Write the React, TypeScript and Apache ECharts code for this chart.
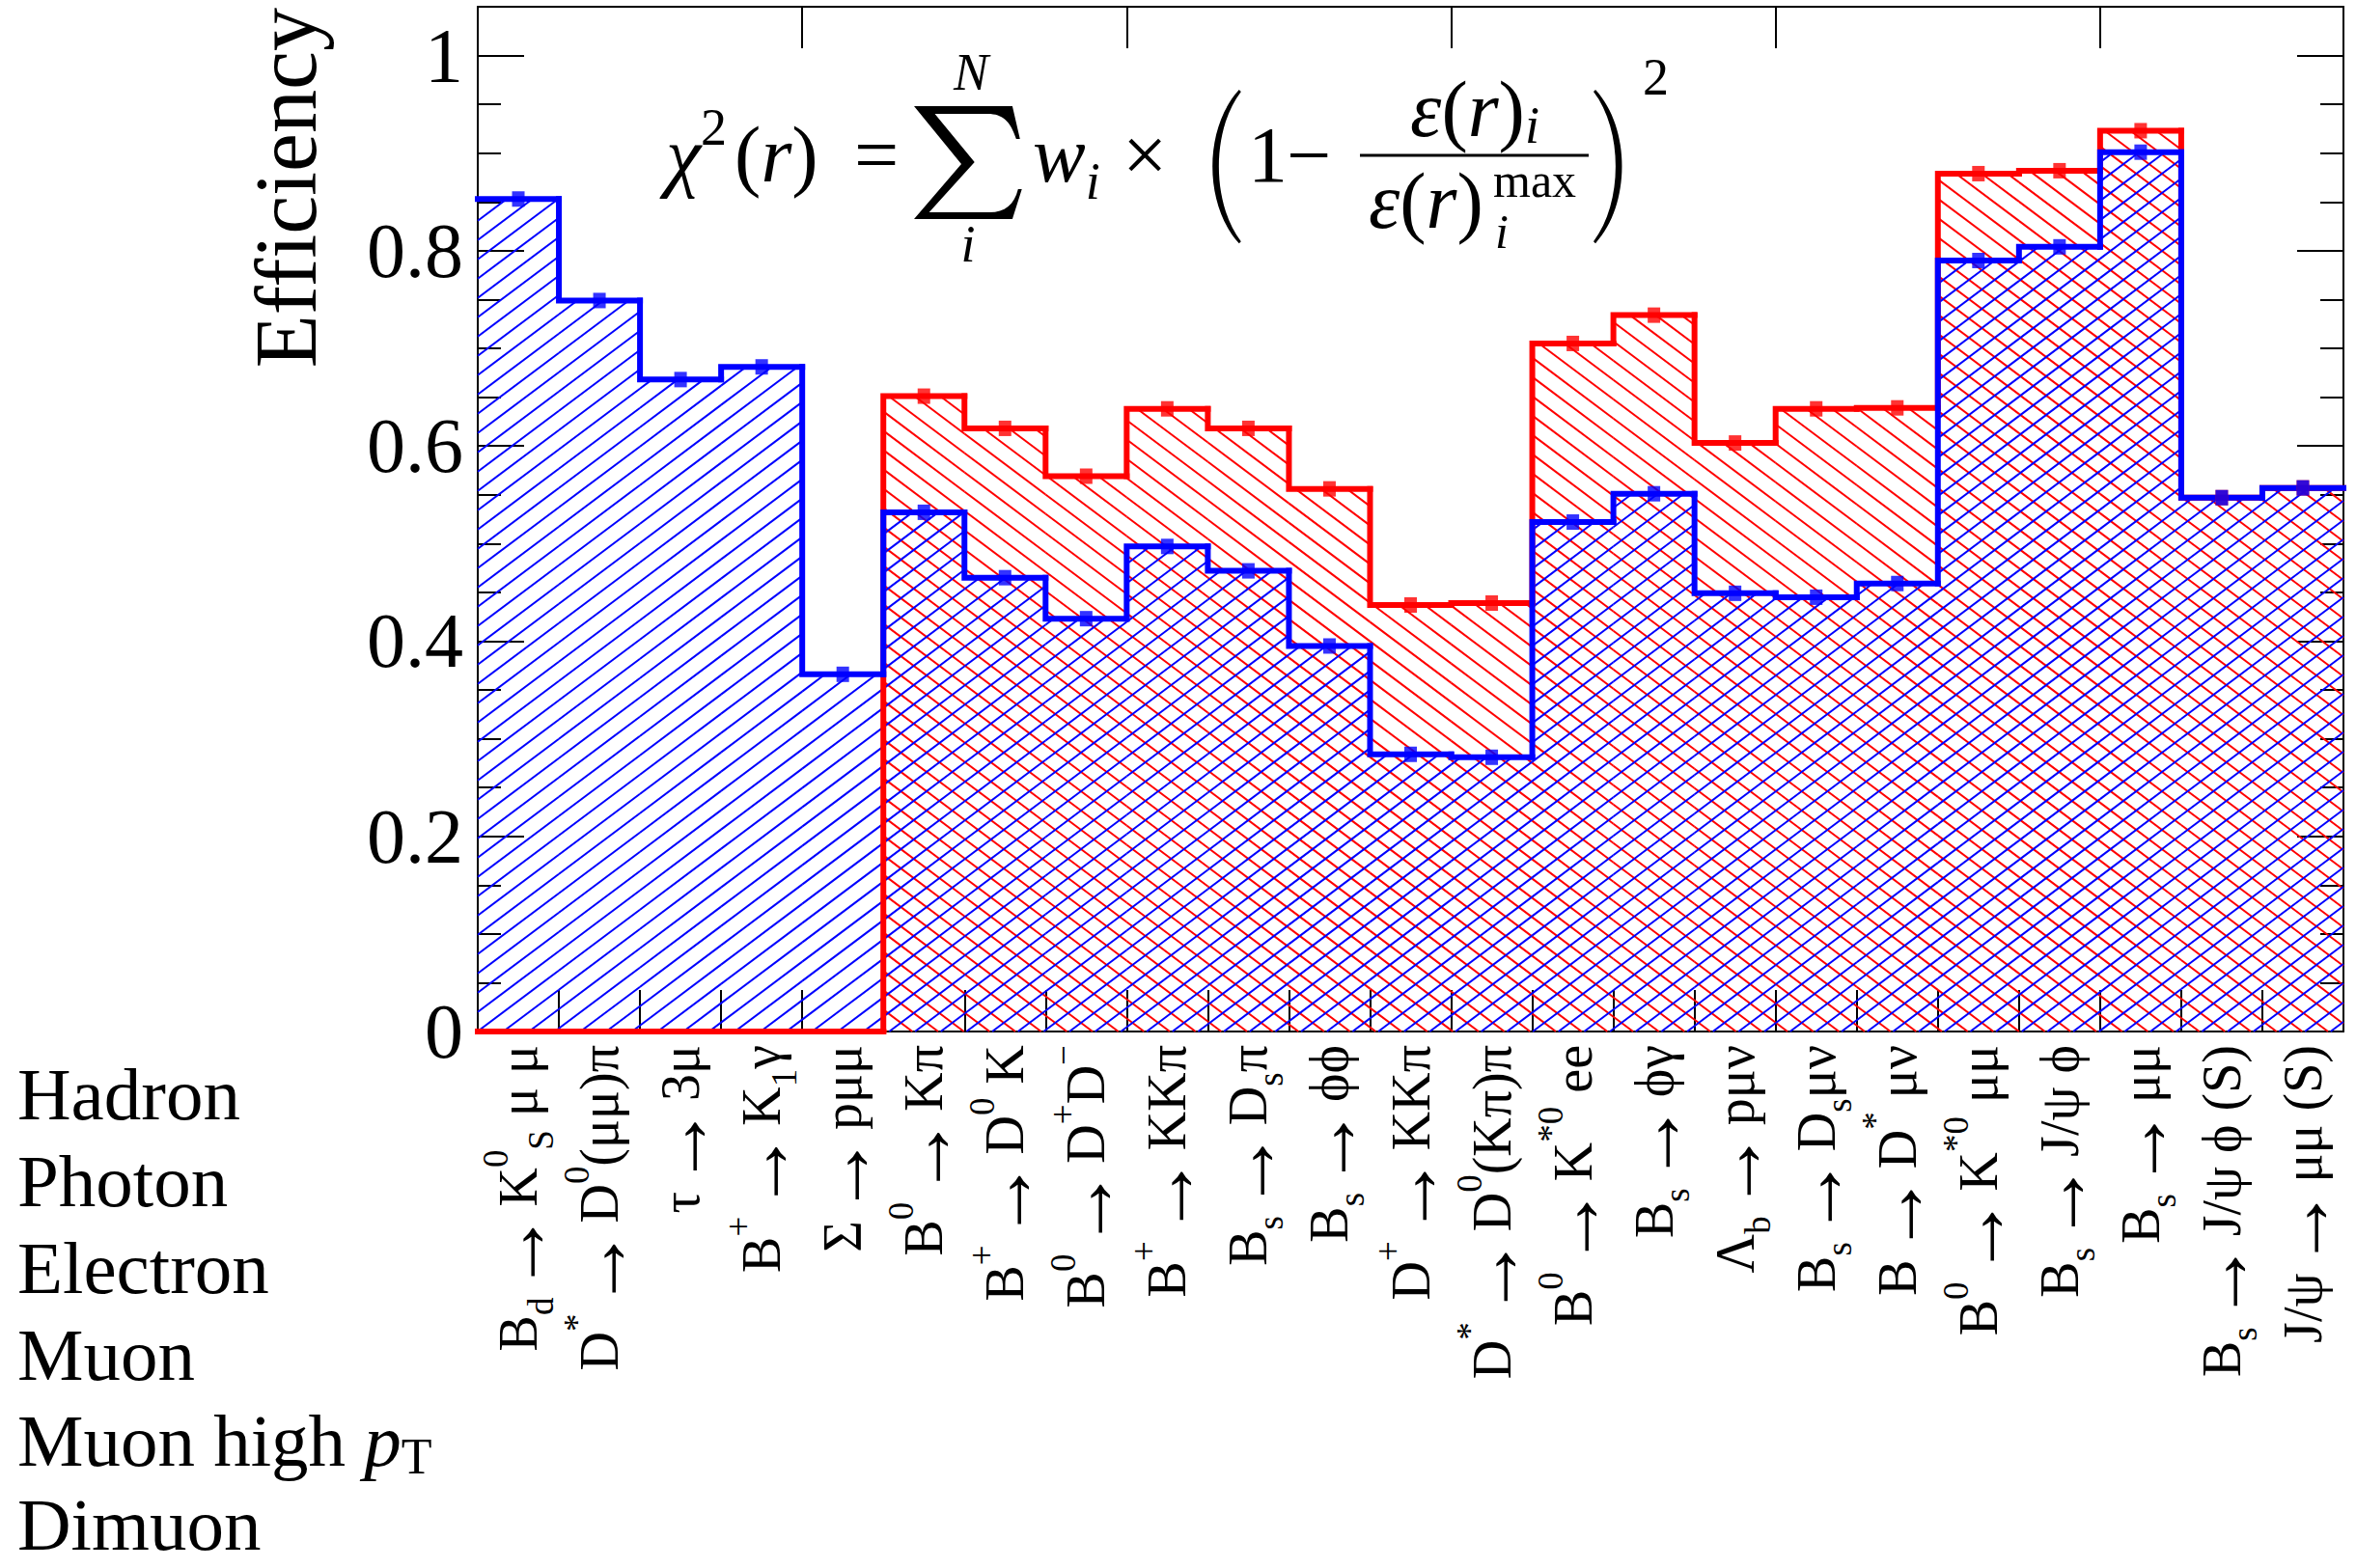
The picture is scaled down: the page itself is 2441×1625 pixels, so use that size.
import React, { useEffect, useRef } from 'react';
import * as echarts from 'echarts';

const SERIF = '"Liberation Serif", "Times New Roman", Times, serif';

// Display-style glyphs drawn as outlines: summation sign and tall parentheses
const SIGMA_PATH =
  'M0 0 L104 0 L112 34 L108 34 C102 16 94 8 78 8 L22 8 L64 58 L16 110 L80 110 C96 110 106 102 110 86 L114 86 L104 117 L0 117 L50 60 Z';
const LPAREN_PATH = 'M38 0 C2 40 2 120 38 160 L40 158 C10 118 10 42 40 2 Z';
const RPAREN_PATH = 'M2 0 C38 40 38 120 2 160 L0 158 C30 118 30 42 0 2 Z';
echarts.graphic.registerShape('sigmaGlyph', echarts.graphic.extendPath(SIGMA_PATH, {}));
echarts.graphic.registerShape('lparenGlyph', echarts.graphic.extendPath(LPAREN_PATH, {}));
echarts.graphic.registerShape('rparenGlyph', echarts.graphic.extendPath(RPAREN_PATH, {}));

// Decay channels, one per bin (rich-text markup for sub/superscripts)
const channels: string[] = [
  '{n|B}{sub|d}{ar|→}{n|K}{sup|0}{sub|S}{n| μ μ}',
  '{n|D}{sup|*}{ar|→}{n|D}{sup|0}{n|(μμ)π}',
  '{n|τ}{ar|→}{n|3μ}',
  '{n|B}{sup|+}{ar|→}{n|K}{sub|1}{n|γ}',
  '{n|Σ}{ar|→}{n|pμμ}',
  '{n|B}{sup|0}{ar|→}{n|Kπ}',
  '{n|B}{sup|+}{ar|→}{n|D}{sup|0}{n| K}',
  '{n|B}{sup|0}{ar|→}{n|D}{sup|+}{n|D}{sup|−}',
  '{n|B}{sup|+}{ar|→}{n|KKπ}',
  '{n|B}{sub|s}{ar|→}{n|D}{sub|s}{n|π}',
  '{n|B}{sub|s}{ar|→}{n|ϕϕ}',
  '{n|D}{sup|+}{ar|→}{n|KKπ}',
  '{n|D}{sup|*}{ar|→}{n|D}{sup|0}{n|(Kπ)π}',
  '{n|B}{sup|0}{ar|→}{n|K}{sup|*0}{n| ee}',
  '{n|B}{sub|s}{ar|→}{n|ϕγ}',
  '{n|Λ}{sub|b}{ar|→}{n|pμν}',
  '{n|B}{sub|s}{ar|→}{n|D}{sub|s}{n|μν}',
  '{n|B}{ar|→}{n|D}{sup|*}{n| μν}',
  '{n|B}{sup|0}{ar|→}{n|K}{sup|*0}{n| μμ}',
  '{n|B}{sub|s}{ar|→}{n|J/ψ ϕ}',
  '{n|B}{sub|s}{ar|→}{n|μμ}',
  '{n|B}{sub|s}{ar|→}{n|J/ψ ϕ (S)}',
  '{n|J/ψ}{ar|→}{n|μμ (S)}',
];

// Efficiency per channel, blue (single-trigger tuning) and red (combined)
const blueEff = [
  0.853, 0.749, 0.668, 0.681, 0.366, 0.532, 0.465, 0.423, 0.497, 0.472, 0.395, 0.284,
  0.281, 0.522, 0.551, 0.449, 0.445, 0.459, 0.79, 0.804, 0.901, 0.547, 0.557,
];
const redEff = [
  0, 0, 0, 0, 0, 0.651, 0.618, 0.569, 0.638, 0.618, 0.556, 0.437,
  0.439, 0.705, 0.734, 0.603, 0.638, 0.639, 0.879, 0.882, 0.923, 0.547, 0.557,
];

// Trigger lines listed under the y axis
const triggerRows: string[] = ['Hadron', 'Photon', 'Electron', 'Muon', 'Muon high', 'Dimuon'];

const yMajorTicks = [0, 0.2, 0.4, 0.6, 0.8, 1];
const Y_MAX = 1.05;

const BLUE = '#0000ff';
const RED = '#ff0000';

// Diagonal hatching of one bin: lines y = a*x + c in pixel space, clipped to the bar
function hatchRenderer(a: number, gap: number, color: string) {
  return (params: any, api: any) => {
    const i = api.value(0);
    const v = api.value(1);
    if (!(v > 0)) return null;
    const top = api.coord([i, v]);
    const base = api.coord([i, 0]);
    const bw = api.size([1, 0])[0];
    const x0 = top[0] - bw / 2;
    const x1 = top[0] + bw / 2;
    const yT = top[1];
    const yB = base[1];
    const cs = [yT - a * x0, yT - a * x1, yB - a * x0, yB - a * x1];
    const cmin = Math.min(...cs);
    const cmax = Math.max(...cs);
    const children: any[] = [];
    for (let k = Math.ceil(cmin / gap); k * gap <= cmax; k++) {
      const c = k * gap;
      const xa = (yT - c) / a;
      const xb = (yB - c) / a;
      const xl = Math.max(x0, Math.min(xa, xb));
      const xr = Math.min(x1, Math.max(xa, xb));
      if (xr - xl > 0.3) {
        children.push({
          type: 'line',
          shape: { x1: xl, y1: a * xl + c, x2: xr, y2: a * xr + c },
          style: { stroke: color, lineWidth: 2 },
        });
      }
    }
    return { type: 'group', children };
  };
}

// Histogram outline of one bin: rise from the previous bin's level, then across
function outlineRenderer(values: number[], color: string) {
  return (params: any, api: any) => {
    const i = api.value(0);
    const v = api.value(1);
    const prev = i > 0 ? values[i - 1] : v;
    const c = api.coord([i, v]);
    const bw = api.size([1, 0])[0];
    const x0 = c[0] - bw / 2;
    const x1 = c[0] + bw / 2;
    const yPrev = api.coord([i, prev])[1];
    return {
      type: 'polyline',
      shape: { points: [[x0, yPrev], [x0, c[1]], [x1, c[1]]] },
      style: { stroke: color, lineWidth: 6, fill: null, lineJoin: 'miter', lineCap: 'square' },
    };
  };
}

const labelRich = {
  n: { fontFamily: SERIF, fontSize: 56, lineHeight: 84, color: '#000' },
  ar: { fontFamily: SERIF, fontSize: 84, padding: [0, 5, 0, 5], color: '#000' },
  sub: { fontFamily: SERIF, fontSize: 37, verticalAlign: 'bottom', color: '#000' },
  sup: { fontFamily: SERIF, fontSize: 37, verticalAlign: 'top', color: '#000' },
};

const rowRich = {
  n: { fontFamily: SERIF, fontSize: 77, lineHeight: 86, color: '#000' },
  it: { fontFamily: SERIF, fontStyle: 'italic', fontSize: 77, lineHeight: 86, color: '#000' },
  sub: { fontFamily: SERIF, fontSize: 52, verticalAlign: 'bottom', color: '#000' },
};

const MS = 82; // formula font size
const mathRich = {
  n: { fontFamily: SERIF, fontSize: MS, lineHeight: 110, color: '#000' },
  it: { fontFamily: SERIF, fontStyle: 'italic', fontSize: MS, lineHeight: 110, color: '#000' },
  sub: { fontFamily: SERIF, fontStyle: 'italic', fontSize: 54, verticalAlign: 'bottom', color: '#000' },
  sup: { fontFamily: SERIF, fontSize: 54, verticalAlign: 'top', padding: [0, 8, 0, 0], color: '#000' },
};
// tighter line box for the stacked fraction
const fracRich = {
  n: { fontFamily: SERIF, fontSize: MS, lineHeight: 88, color: '#000' },
  it: { fontFamily: SERIF, fontStyle: 'italic', fontSize: MS, lineHeight: 88, color: '#000' },
  sub: { fontFamily: SERIF, fontStyle: 'italic', fontSize: 54, verticalAlign: 'bottom', color: '#000' },
};

// text element placed by its baseline (em-box centre sits ~0.34em above it)
function txt(text: string, x: number, baseline: number, size: number, align = 'left', italic = false) {
  return {
    type: 'text',
    x,
    y: baseline - 0.34 * size,
    silent: true,
    style: {
      text,
      fill: '#000',
      font: `${italic ? 'italic ' : ''}${size}px ${SERIF}`,
      lineHeight: size,
      textAlign: align,
      textVerticalAlign: 'middle',
    },
  };
}

function richTxt(text: string, x: number, baseline: number, rich: any, mainSize: number, align = 'left') {
  return {
    type: 'text',
    x,
    y: baseline - 0.34 * mainSize,
    silent: true,
    style: { text, rich, fill: '#000', textAlign: align, textVerticalAlign: 'middle' },
  };
}

function glyph(shape: string, x: number, y: number, sx: number, sy: number) {
  return { type: shape, x, y, scaleX: sx, scaleY: sy, silent: true, style: { fill: '#000', stroke: null } };
}

const B = 188; // main formula baseline

const formula = [
  richTxt('{it|χ}{sup|2}{n|(}{it|r}{n|)}', 690, B, mathRich, MS),
  txt('=', 908, B, MS, 'center'),
  glyph('sigmaGlyph', 947, 110, 0.98, 1.0),
  txt('N', 1006, 93, 54, 'center', true),
  txt('i', 1003, 271, 54, 'center', true),
  richTxt('{it|w}{sub|i}', 1070, B, mathRich, MS),
  txt('×', 1186, B, MS, 'center'),
  glyph('lparenGlyph', 1245, 93, 1.02, 0.995),
  txt('1', 1293, B, MS),
  txt('−', 1356, B, MS, 'center'),
  { type: 'line', silent: true, shape: { x1: 1409, y1: 161, x2: 1646, y2: 161 }, style: { stroke: '#000', lineWidth: 3 } },
  richTxt('{it|ε}{n|(}{it|r}{n|)}{sub|i}', 1528, 141, fracRich, MS, 'center'),
  richTxt('{it|ε}{n|(}{it|r}{n|)}', 1418, 236, fracRich, MS),
  txt('max', 1547, 204, 50),
  txt('i', 1549, 257, 50, 'left', true),
  glyph('rparenGlyph', 1651, 93, 1.02, 0.995),
  txt('2', 1702, 98, 54),
];

const rowBaselines = [1160, 1250, 1340, 1430, 1519, 1606];

const graphicElements: any[] = [
  {
    type: 'text',
    x: 296,
    y: 8,
    rotation: Math.PI / 2,
    silent: true,
    style: {
      text: 'Efficiency',
      fill: '#000',
      font: `90px ${SERIF}`,
      textAlign: 'right',
      textVerticalAlign: 'middle',
    },
  },
  ...triggerRows.map((r, k) =>
    k === 4
      ? richTxt(`{n|${r} }{it|p}{sub|T}`, 18, rowBaselines[k], rowRich, 77)
      : txt(r, 18, rowBaselines[k], 77)
  ),
  ...formula,
];

const frame = { show: true, onZero: false, lineStyle: { color: '#000', width: 2 } };

function yAxisDef(position: string, interval: number, tickLen: number, withLabels: boolean, withLine: boolean) {
  return {
    type: 'value',
    position,
    min: 0,
    max: Y_MAX,
    interval,
    axisLine: withLine ? frame : { show: false },
    axisTick: { show: true, inside: true, length: tickLen, lineStyle: { color: '#000', width: 2 } },
    splitLine: { show: false },
    axisLabel: withLabels
      ? {
          show: true,
          margin: 15,
          color: '#000',
          fontFamily: SERIF,
          fontSize: 80,
          showMaxLabel: false,
          formatter: (v: number) => {
            const m = yMajorTicks.find((t) => Math.abs(t - v) < 1e-6);
            return m === undefined ? '' : String(m);
          },
        }
      : { show: false },
  };
}

const blueData = blueEff.map((v, i) => [i, v]);
const redData = redEff.map((v, i) => [i, v]);

const option: any = {
  animation: false,
  backgroundColor: '#fff',
  grid: { left: 495, right: 13, top: 7, bottom: 556, containLabel: false },
  xAxis: [
    {
      type: 'category',
      data: channels,
      position: 'bottom',
      boundaryGap: true,
      axisLine: frame,
      axisTick: { show: true, inside: true, length: 43, lineStyle: { color: '#000', width: 2 } },
      axisLabel: { show: true, interval: 0, rotate: 90, margin: 14, color: '#000', rich: labelRich },
      splitLine: { show: false },
    },
    {
      type: 'category',
      data: channels,
      position: 'top',
      boundaryGap: true,
      axisLine: frame,
      axisTick: { show: true, inside: true, length: 43, lineStyle: { color: '#000', width: 2 } },
      axisLabel: { show: false },
      splitLine: { show: false },
    },
  ],
  yAxis: [
    yAxisDef('left', 0.2, 48, true, true),
    yAxisDef('right', 0.2, 48, false, true),
    yAxisDef('left', 0.05, 24, false, false),
    yAxisDef('right', 0.05, 24, false, false),
  ],
  graphic: { elements: graphicElements },
  series: [
    { type: 'custom', name: 'red hatch', data: redData, z: 1, renderItem: hatchRenderer(0.75, 20, RED) },
    { type: 'custom', name: 'blue hatch', data: blueData, z: 2, renderItem: hatchRenderer(-0.75, 20, BLUE) },
    { type: 'custom', name: 'red outline', data: redData, z: 3, renderItem: outlineRenderer(redEff, RED) },
    { type: 'custom', name: 'blue outline', data: blueData, z: 4, renderItem: outlineRenderer(blueEff, BLUE) },
    {
      type: 'scatter',
      name: 'red points',
      data: redData.filter((d) => d[1] > 0),
      symbol: 'rect',
      symbolSize: [13, 16],
      itemStyle: { color: RED },
      z: 5,
    },
    {
      type: 'scatter',
      name: 'blue points',
      data: blueData,
      symbol: 'rect',
      symbolSize: [13, 16],
      itemStyle: { color: BLUE },
      z: 6,
    },
  ],
};

export default function App() {
  const ref = useRef<HTMLDivElement>(null);
  useEffect(() => {
    const chart = echarts.init(ref.current!, null, { renderer: 'svg' });
    chart.setOption(option);
    return () => chart.dispose();
  }, []);
  return (
    <div
      ref={ref}
      style={{ position: 'absolute', left: 0, top: 0, width: 2441, height: 1625, background: '#fff' }}
    />
  );
}
